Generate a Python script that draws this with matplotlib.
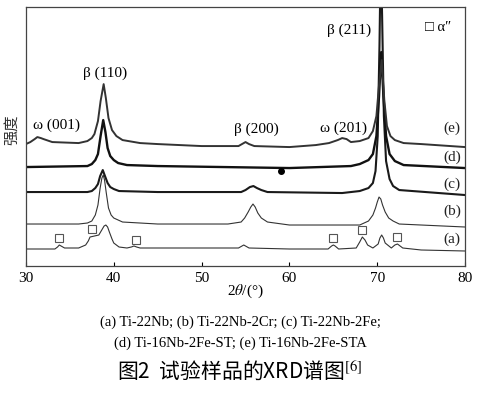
import matplotlib.pyplot as plt

plt.rcParams['font.family'] = ['Liberation Serif', 'DejaVu Serif']
plt.rcParams['mathtext.fontset'] = 'stix'

# XRD patterns (2theta in degrees, intensity in a.u., offsets included as drawn)
tt_a = [30, 32, 33.3, 33.6, 33.8, 34.0, 34.4, 36, 36.8, 37.1, 37.3, 37.8, 38.3, 38.7, 38.9,
        39.1, 39.3, 39.5, 39.8, 40, 40.6, 41.5, 42.0, 42.3, 42.6, 43, 50, 54.2, 54.6, 54.8,
        55.0, 55.4, 60, 64.4, 64.8, 65.0, 65.2, 65.6, 67.6, 68.0, 68.3, 68.6, 68.9, 69.5,
        70.1, 70.3, 70.5, 70.7, 70.9, 71.6, 72.0, 72.3, 72.6, 72.9, 75, 80]
int_a = [17, 17, 17, 19, 21, 20, 18, 18, 21, 25, 29, 30, 31, 37, 40,
         41, 39, 34, 27, 23, 19, 18, 19, 20, 19, 18, 18, 18, 20, 21,
         20, 18, 17, 17, 20, 21, 20, 17, 18, 24, 29, 26, 21, 18,
         22, 28, 31, 28, 23, 18, 21, 22, 20, 18, 16, 15]

tt_b = [30, 36, 37.0, 37.5, 37.9, 38.2, 38.45, 38.65, 38.8, 38.95, 39.15, 39.4, 39.7, 40, 40.5,
        41, 45, 53, 54.5, 54.9, 55.3, 55.6, 55.85, 56.1, 56.4, 56.8, 57.5, 60, 68, 69.0,
        69.5, 69.8, 70.0, 70.2, 70.4, 70.6, 70.9, 71.3, 71.8, 72.5, 80]
int_b = [42, 42, 43, 45, 51, 61, 78, 88, 91, 86, 73, 58, 51, 48, 46,
         44, 42, 42, 44, 48, 54, 59, 62, 59, 53, 48, 44, 41, 41, 45,
         51, 58, 64, 69, 67, 61, 54, 48, 45, 42, 39]

tt_c = [30, 37.0, 37.5, 37.9, 38.2, 38.45, 38.75, 39.0, 39.3, 39.6, 40, 40.6, 45, 54.5, 55.0,
        55.5, 55.9, 56.3, 56.8, 57.5, 66, 68.0, 69.0, 69.5, 69.8, 70.05, 70.25, 70.4, 70.55, 70.75,
        71.0, 71.4, 71.8, 72.5, 80]
int_c = [74, 74, 75, 78, 82, 90, 96, 90, 83, 79, 77, 75, 74, 74, 76,
         79, 80, 78, 76, 74, 73, 75, 78, 83, 95, 130, 220, 316, 250, 150,
         105, 87, 80, 76, 71]

tt_d = [30, 37.0, 37.5, 37.9, 38.2, 38.5, 38.8, 39.05, 39.3, 39.6, 40, 40.5, 41.5, 45, 60,
        67, 68.0, 69.0, 69.5, 69.9, 70.2, 70.45, 70.7, 71.0, 71.4, 72, 73, 80]
int_d = [99, 100, 102, 106, 112, 130, 146, 134, 118, 110, 106, 103, 101, 100, 98,
         100, 102, 106, 112, 130, 170, 214, 170, 130, 112, 105, 101, 98]

tt_e = [30, 30.5, 31.0, 31.3, 31.7, 32, 33, 36, 37.0, 37.5, 37.8, 38.2, 38.5, 38.85, 39.1,
        39.4, 39.8, 40.3, 41, 43, 45, 50, 54.2, 54.6, 55.0, 55.4, 56, 60, 63, 64.5,
        65.5, 66.0, 66.5, 67, 68, 69, 69.5, 69.9, 70.2, 70.5, 70.8, 71.1, 71.5, 72, 73, 75, 80]
int_e = [122, 124, 127, 129, 128, 127, 124, 123, 125, 128, 132, 145, 165, 182, 168,
         148, 136, 130, 126, 123, 122, 120, 120, 122, 124, 122, 120, 119, 121, 123,
         126, 128, 127, 124, 125, 128, 135, 150, 181, 206, 166, 140, 130, 126, 123, 122, 119]

# alpha'' reflections marked on pattern (a)
sq_tt = [33.8, 37.5, 42.5, 65.0, 68.3, 72.3]
sq_int = [28, 37, 26, 28, 36, 29]

curve_names = ['(e)', '(d)', '(c)', '(b)', '(a)']
name_int = [138, 109, 82, 55, 27]

fig = plt.figure(figsize=(4.8, 3.97), dpi=100)
ax = fig.add_axes([0.054, 0.33, 0.915, 0.652])

ax.plot(tt_a, int_a, color='#333333', lw=0.8)
ax.plot(tt_b, int_b, color='#333333', lw=0.8)
ax.plot(tt_c, int_c, color='#1a1a1a', lw=1.5)
ax.plot(tt_d, int_d, color='#111111', lw=1.7)
ax.plot(tt_e, int_e, color='#333333', lw=1.4)
ax.plot([59.0], [95], 'o', color='black', ms=4)
ax.plot(sq_tt, sq_int, 's', mfc='white', mec='#555555', ms=5.5, mew=0.8, ls='none')

for nm, yy in zip(curve_names, name_int):
    ax.text(78.5, yy, nm, ha='center', va='center', fontsize=11, color='#222222')

ax.text(39.0, 193, 'β (110)', ha='center', va='center', fontsize=11)
ax.text(33.5, 141, 'ω (001)', ha='center', va='center', fontsize=11)
ax.text(56.2, 137, 'β (200)', ha='center', va='center', fontsize=11)
ax.text(66.1, 138, 'ω (201)', ha='center', va='center', fontsize=11)
ax.text(66.8, 236, 'β (211)', ha='center', va='center', fontsize=11)
ax.text(76.9, 239, '□ α″', ha='center', va='center', fontsize=10.5)

ax.set_xlim(30, 80)
ax.set_ylim(0, 259)
ax.set_xticks([30, 40, 50, 60, 70, 80])
ax.set_yticks([])
ax.tick_params(axis='x', direction='in', length=3, labelsize=11, pad=4)
for s in ax.spines.values():
    s.set_color('#444444')
    s.set_linewidth(0.9)

fig.text(12 / 480, 1 - 130 / 397, '强度', rotation=90, ha='center', va='center',
         fontsize=11, family=['Noto Sans CJK SC', 'DejaVu Sans'], color='#333333')
fig.text(245 / 480, 1 - 291 / 397, r'2$\it{\theta}$/(°)', ha='center', va='center', fontsize=11)
fig.text(0.5, 1 - 322 / 397, '(a) Ti-22Nb; (b) Ti-22Nb-2Cr; (c) Ti-22Nb-2Fe;',
         ha='center', va='center', fontsize=10.5)
fig.text(0.5, 1 - 343 / 397, '(d) Ti-16Nb-2Fe-ST; (e) Ti-16Nb-2Fe-STA',
         ha='center', va='center', fontsize=10.5)
fig.text(0.5, 1 - 371 / 397, '图2  试验样品的XRD谱图$^{[6]}$', ha='center', va='center',
         fontsize=15, family=['Noto Sans CJK SC', 'DejaVu Sans'])

fig.savefig('out.png', dpi=100)
